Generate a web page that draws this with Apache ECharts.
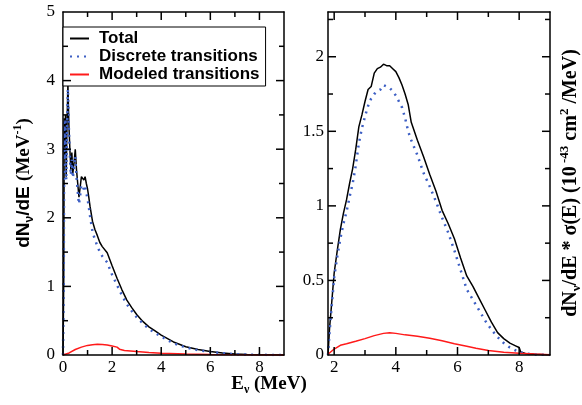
<!DOCTYPE html>
<html>
<head>
<meta charset="utf-8">
<script src="https://cdn.jsdelivr.net/npm/echarts@6/dist/echarts.min.js"></script>
<style>html,body{margin:0;padding:0;background:#fff;}#c{width:582px;height:405px;}</style>
</head>
<body>
<div id="c"></div>
<script>
// ---------- axis ranges ----------
const leftXRange = [0, 9];
const leftYRange = [0, 5];
const rightXRange = [1.8, 9];
const rightYRange = [0, 2.3];

// ---------- tick labels ----------
const leftXTickCats = ['0', '1', '2', '3', '4', '5', '6', '7', '8', '9'];
const leftXLabels = ['0', '2', '4', '6', '8'];
const rightXTickCats = ['1.8', '2', '2.2', '2.4', '2.6', '2.8', '3', '3.2', '3.4', '3.6', '3.8', '4', '4.2', '4.4', '4.6', '4.8', '5', '5.2', '5.4', '5.6', '5.8', '6', '6.2', '6.4', '6.6', '6.8', '7', '7.2', '7.4', '7.6', '7.8', '8', '8.2', '8.4', '8.6', '8.8', '9'];
const rightXLabels = ['2', '4', '6', '8'];
const leftYLabels = [0, 1, 2, 3, 4, 5];
const rightYLabels = [0, 0.5, 1, 1.5, 2];

// ---------- tick positions ----------
const leftXMajor = [2, 4, 6, 8];
const leftXMinor = [1, 3, 5, 7];
const leftYMajor = [1, 2, 3, 4];
const leftYMinor = [0.5, 1.5, 2.5, 3.5, 4.5];
const rightXMajor = [2, 4, 6, 8];
const rightXMinor = [3, 5, 7];
const rightYMajor = [0.5, 1, 1.5, 2];
const rightYMinor = [0.25, 0.75, 1.25, 1.75, 2.25];

// ---------- legend / series names ----------
const seriesNames = ['Total', 'Discrete transitions', 'Modeled transitions'];

// ---------- left panel: dN/dE ----------
const leftE = [0, 0.01, 0.03, 0.05, 0.08, 0.1, 0.13, 0.16, 0.2, 0.24, 0.28, 0.32, 0.36, 0.4, 0.45, 0.5, 0.55, 0.6, 0.65, 0.7, 0.75, 0.8, 0.85, 0.9, 0.95, 1.0, 1.05, 1.1, 1.2, 1.3, 1.4, 1.5, 1.6, 1.8, 2.0, 2.2, 2.4, 2.6, 2.8, 3.0, 3.25, 3.5, 3.75, 4.0, 4.5, 5.0, 5.5, 6.0, 6.5, 7.0, 7.5, 8.0, 8.5, 9.0];
const leftTotal = [0, 0.35, 1.1, 3.45, 2.9, 3.5, 2.6, 3.3, 3.95, 3.35, 3.0, 2.7, 2.95, 2.65, 2.8, 3.0, 2.7, 2.5, 2.3, 2.45, 2.6, 2.62, 2.55, 2.6, 2.5, 2.42, 2.3, 2.17, 1.95, 1.83, 1.74, 1.64, 1.58, 1.49, 1.30, 1.12, 0.95, 0.80, 0.69, 0.59, 0.49, 0.41, 0.35, 0.29, 0.19, 0.12, 0.08, 0.05, 0.03, 0.015, 0.008, 0.004, 0.002, 0.001];
const leftDiscrete = [0, 0.33, 1.08, 3.4, 2.85, 3.45, 2.55, 3.25, 3.88, 3.3, 2.9, 2.62, 2.85, 2.58, 2.72, 2.9, 2.6, 2.38, 2.2, 2.33, 2.48, 2.5, 2.42, 2.47, 2.36, 2.28, 2.16, 2.03, 1.80, 1.68, 1.59, 1.50, 1.44, 1.35, 1.17, 1.02, 0.87, 0.74, 0.64, 0.55, 0.46, 0.38, 0.32, 0.27, 0.17, 0.11, 0.07, 0.045, 0.027, 0.012, 0.006, 0.003, 0.001, 0];
const leftModE = [0, 0.25, 0.5, 0.75, 1.0, 1.2, 1.4, 1.6, 1.8, 2.0, 2.2, 2.3, 2.5, 3.0, 3.5, 4.0, 5.0, 6.0, 7.0, 8.0, 9.0];
const leftModeled = [0, 0.03, 0.08, 0.115, 0.14, 0.15, 0.155, 0.152, 0.145, 0.13, 0.115, 0.085, 0.065, 0.05, 0.038, 0.027, 0.014, 0.007, 0.003, 0.001, 0];

// ---------- right panel: dN/dE * sigma(E) ----------
const rightE = [1.8, 1.85, 1.9, 2.0, 2.1, 2.2, 2.3, 2.4, 2.5, 2.6, 2.7, 2.8, 2.9, 3.0, 3.1, 3.2, 3.3, 3.4, 3.5, 3.6, 3.7, 3.8, 3.9, 4.0, 4.1, 4.2, 4.3, 4.4, 4.5, 4.7, 4.9, 5.1, 5.3, 5.5, 5.7, 5.9, 6.1, 6.3, 6.5, 6.7, 6.9, 7.1, 7.3, 7.5, 7.7, 7.9, 8.0, 8.05, 8.2, 8.5, 9.0];
const rightTotal = [0, 0.18, 0.3, 0.55, 0.7, 0.84, 0.95, 1.04, 1.15, 1.25, 1.38, 1.53, 1.61, 1.70, 1.78, 1.80, 1.89, 1.92, 1.93, 1.95, 1.94, 1.94, 1.92, 1.90, 1.86, 1.81, 1.75, 1.68, 1.56, 1.44, 1.33, 1.21, 1.10, 0.97, 0.88, 0.78, 0.65, 0.53, 0.46, 0.38, 0.30, 0.22, 0.15, 0.11, 0.08, 0.06, 0.05, 0.02, 0.01, 0.005, 0];
const rightDiscrete = [0, 0.15, 0.28, 0.52, 0.66, 0.78, 0.88, 0.96, 1.06, 1.15, 1.27, 1.42, 1.52, 1.60, 1.67, 1.72, 1.75, 1.77, 1.78, 1.81, 1.80, 1.79, 1.77, 1.74, 1.70, 1.66, 1.59, 1.50, 1.44, 1.34, 1.22, 1.13, 1.03, 0.92, 0.82, 0.70, 0.57, 0.44, 0.37, 0.30, 0.23, 0.17, 0.12, 0.08, 0.05, 0.03, 0.02, 0.015, 0.01, 0.004, 0];
const rightModE = [1.8, 2.0, 2.2, 2.4, 2.7, 3.0, 3.3, 3.6, 3.8, 4.0, 4.3, 4.7, 5.1, 5.5, 5.9, 6.3, 6.6, 7.0, 7.5, 8.0, 8.5, 9.0];
const rightModeled = [0.005, 0.04, 0.065, 0.075, 0.092, 0.11, 0.13, 0.145, 0.15, 0.145, 0.135, 0.125, 0.112, 0.095, 0.075, 0.058, 0.045, 0.03, 0.018, 0.011, 0.006, 0.002];

// ---------- helpers ----------
const zip = (xs, ys) => xs.map((x, i) => [x, ys[i]]);
const LINE = { color: '#000', width: 1.5 };
const SERIF = 'Liberation Serif';
const SANS = 'Liberation Sans';
const near = (v, list) => list.some(t => Math.abs(t - v) < 1e-6);
const LABEL = { fontFamily: SERIF, fontSize: 17, color: '#000' };
const MAJOR = 8, MINOR = 5;

function dataX(grid, r) {
  return { type: 'value', gridIndex: grid, min: r[0], max: r[1], show: false, splitLine: { show: false } };
}
function frameX(grid, cats, labels, pos) {
  const pick = (i, v) => !!labels && labels.indexOf(v) >= 0;
  return {
    type: 'category', gridIndex: grid, data: cats, boundaryGap: false, position: pos,
    axisLine: { show: true, onZero: false, lineStyle: LINE },
    axisTick: { show: false },
    axisLabel: labels ? Object.assign({ show: true, interval: pick, margin: 4 }, LABEL) : { show: false },
    splitLine: { show: false }, z: 5
  };
}
function frameY(grid, r, interval, pos, labels, margin) {
  return {
    type: 'value', gridIndex: grid, min: r[0], max: r[1], interval: interval, position: pos,
    axisLine: { show: true, onZero: false, lineStyle: LINE },
    axisTick: { show: false }, minorTick: { show: false },
    axisLabel: labels ? Object.assign({ show: true, margin: margin, formatter: v => (near(v, labels) ? String(v) : '') }, LABEL) : { show: false },
    splitLine: { show: false }, z: 5
  };
}

// tick definitions per panel: [xAxisIndex, yAxisIndex, xRange, yRange, xMajor, xMinor, yMajor, yMinor]
const panels = [
  [0, 0, leftXRange, leftYRange, leftXMajor, leftXMinor, leftYMajor, leftYMinor],
  [3, 2, rightXRange, rightYRange, rightXMajor, rightXMinor, rightYMajor, rightYMinor]
];

const xAxes = [
  dataX(0, leftXRange),                                  // 0
  frameX(0, leftXTickCats, leftXLabels, 'bottom'),       // 1
  frameX(0, leftXTickCats, null, 'top'),                 // 2
  dataX(1, rightXRange),                                 // 3
  frameX(1, rightXTickCats, rightXLabels, 'bottom'),     // 4
  frameX(1, rightXTickCats, null, 'top')                 // 5
];
const yAxes = [
  frameY(0, leftYRange, 1, 'left', leftYLabels, 8),      // 0
  frameY(0, leftYRange, 1, 'right', null, 0),            // 1
  frameY(1, rightYRange, 0.5, 'left', rightYLabels, 4),  // 2
  frameY(1, rightYRange, 0.5, 'right', null, 0)          // 3
];

const totalStyle = { color: '#000', width: 1.5 };
const discreteStyle = { color: '#3d5fc4', width: 2.5, type: [2, 5] };
const modeledStyle = { color: '#ff1a1a', width: 1.5 };

function mkSeries(name, data, xi, yi, style) {
  return {
    name: name, type: 'line', xAxisIndex: xi, yAxisIndex: yi, data: data,
    showSymbol: false, symbol: 'none', lineStyle: style, itemStyle: { color: style.color },
    animation: false, silent: true, clip: true
  };
}

const series = [
  mkSeries(seriesNames[0], zip(leftE, leftTotal), 0, 0, totalStyle),
  mkSeries(seriesNames[1], zip(leftE, leftDiscrete), 0, 0, discreteStyle),
  mkSeries(seriesNames[2], zip(leftModE, leftModeled), 0, 0, modeledStyle),
  mkSeries(seriesNames[0], zip(rightE, rightTotal), 3, 2, totalStyle),
  mkSeries(seriesNames[1], zip(rightE, rightDiscrete), 3, 2, discreteStyle),
  mkSeries(seriesNames[2], zip(rightModE, rightModeled), 3, 2, modeledStyle)
];

const richL = {
  s: { fontFamily: SANS, fontWeight: 'bold', fontSize: 19, lineHeight: 24, fill: '#000' },
  b: { fontFamily: SERIF, fontWeight: 'bold', fontSize: 19, lineHeight: 24, fill: '#000' },
  sub: { fontFamily: SANS, fontWeight: 'bold', fontSize: 12, lineHeight: 12, verticalAlign: 'bottom', fill: '#000' },
  sup: { fontFamily: SERIF, fontWeight: 'bold', fontSize: 12, lineHeight: 12, verticalAlign: 'top', fill: '#000' }
};
const richR = {
  b: { fontFamily: SERIF, fontWeight: 'bold', fontSize: 20, lineHeight: 25, fill: '#000' },
  sub: { fontFamily: SERIF, fontWeight: 'bold', fontSize: 13, lineHeight: 12, verticalAlign: 'bottom', fill: '#000' },
  sup: { fontFamily: SERIF, fontWeight: 'bold', fontSize: 13, lineHeight: 12, verticalAlign: 'top', fill: '#000' }
};
const richX = {
  b: { fontFamily: SERIF, fontWeight: 'bold', fontSize: 19, lineHeight: 24, fill: '#000' },
  sub: { fontFamily: SERIF, fontWeight: 'bold', fontSize: 12, lineHeight: 12, verticalAlign: 'bottom', fill: '#000' }
};
const titleGraphics = [
  { type: 'text', x: 24, y: 183, rotation: Math.PI / 2,
    style: { text: '{s|dN}{sub|ν}{s|/dE }{b|(MeV}{sup|-1}{b|)}', rich: richL, align: 'center', verticalAlign: 'middle' } },
  { type: 'text', x: 571, y: 183, rotation: Math.PI / 2,
    style: { text: '{b|dN}{sub|ν}{b|/dE * σ(E) (10}{sup| -43}{b| cm}{sup|2}{b| /MeV)}', rich: richR, align: 'center', verticalAlign: 'middle' } },
  { type: 'text', x: 269, y: 384,
    style: { text: '{b|E}{sub|ν}{b| (MeV)}', rich: richX, align: 'center', verticalAlign: 'middle' } }
];

const chart = echarts.init(document.getElementById('c'), null, { renderer: 'canvas' });
chart.setOption({
  animation: false,
  grid: [
    { left: 63, top: 12, width: 221, height: 343 },
    { left: 328, top: 12, width: 222, height: 343 }
  ],
  xAxis: xAxes,
  yAxis: yAxes,
  legend: {
    data: seriesNames,
    left: 63, top: 27, orient: 'vertical',
    backgroundColor: '#fff', borderColor: '#000', borderWidth: 1,
    padding: [3, 6, 3, 6], itemGap: 1, itemWidth: 19, itemHeight: 14,
    selectedMode: false,
    itemStyle: { color: 'rgba(0,0,0,0)', borderColor: 'rgba(0,0,0,0)', borderWidth: 0 },
    textStyle: { fontFamily: SANS, fontWeight: 'bold', fontSize: 17, color: '#000', padding: [0, 0, 0, 5] },
    z: 10
  },
  graphic: titleGraphics,
  series: series
});

// Inward tick marks, positioned through the axes' own scales (convertToPixel).
const tickGraphics = [];
function addTick(px, py, dx, dy, len) {
  const w = 1.5;
  let shape;
  if (dx === 0) shape = { x: px - w / 2, y: dy < 0 ? py - len : py, width: w, height: len };
  else shape = { x: dx < 0 ? px - len : px, y: py - w / 2, width: len, height: w };
  tickGraphics.push({ type: 'rect', shape: shape, style: { fill: '#000' }, silent: true, z: 100 });
}
panels.forEach(p => {
  const [xi, yi, xr, yr, xMaj, xMin, yMaj, yMin] = p;
  const finder = { xAxisIndex: xi, yAxisIndex: yi };
  const px = pt => chart.convertToPixel(finder, pt);
  const doX = (vals, len) => vals.forEach(v => {
    const b = px([v, yr[0]]); addTick(b[0], b[1], 0, -1, len);
    const t = px([v, yr[1]]); addTick(t[0], t[1], 0, 1, len);
  });
  const doY = (vals, len) => vals.forEach(v => {
    const l = px([xr[0], v]); addTick(l[0], l[1], 1, 0, len);
    const r = px([xr[1], v]); addTick(r[0], r[1], -1, 0, len);
  });
  doX(xMaj, MAJOR); doX(xMin, MINOR); doY(yMaj, MAJOR); doY(yMin, MINOR);
});
chart.setOption({ graphic: titleGraphics.concat(tickGraphics) });
</script>
</body>
</html>
